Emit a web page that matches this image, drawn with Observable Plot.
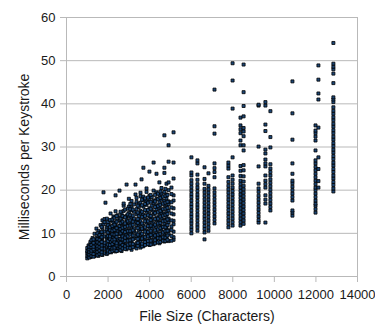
<!DOCTYPE html>
<html>
<head>
<meta charset="utf-8">
<script src="https://cdn.jsdelivr.net/npm/d3@7"></script>
<script src="https://cdn.jsdelivr.net/npm/@observablehq/plot@0.6"></script>
<style>
  html, body { margin: 0; padding: 0; background: #fff; }
  #chart svg { display: block; }
</style>
</head>
<body>
<div id="chart"></div>
<script>
// File size (characters) of each group of measurements
const fileSize = [1000, 1060, 1150, 1250, 1350, 1440, 1540, 1640, 1730, 1780, 1830, 1875, 1940, 2040, 2120, 2150, 2260, 2360, 2460, 2550, 2650, 2750, 2890, 3000, 3130, 3250, 3320, 3370, 3480, 3560, 3610, 3700, 3850, 3990, 4100, 4190, 4330, 4470, 4570, 4710, 4810, 4910, 5150, 6010, 6300, 6640, 6830, 7120, 7790, 7990, 8370, 8520, 9240, 9570, 9810, 10870, 11980, 12120, 12840,
  1100, 1200, 1300, 1490, 1590, 1690, 1990, 2090, 2210, 2310, 2410, 2600, 2700, 2820, 2950, 3070, 3190, 3430, 3630, 3780, 3920, 4050, 4260, 4400, 4520, 4640, 4760, 4860, 5050];

// Milliseconds per keystroke measured for each file size (same order)
const msPerKeystroke = [
  [4.2, 4.8, 5.5, 5.9, 6.6],
  [4.6, 5.2, 6.1, 7.2],
  [4.5, 5.0, 5.8, 6.4, 7.5, 8.0],
  [4.9, 5.3, 6.2, 6.5, 7.6, 8.9],
  [4.7, 5.6, 5.9, 7.1, 7.4, 8.3, 9.9],
  [5.1, 5.5, 6.6, 7.3, 8.1, 9.0, 11.1],
  [4.8, 5.9, 6.4, 7.7, 8.4, 9.4, 10.5],
  [5.3, 5.7, 6.9, 7.5, 8.8, 10.1, 11.9],
  [5.0, 6.1, 6.7, 8.2, 9.0, 9.7, 11.2, 13.0],
  [12.1, 19.5],
  [5.4, 6.4, 7.3, 7.8, 9.3, 10.4, 12.6, 13.3],
  [17.1],
  [5.2, 6.2, 7.0, 8.5, 9.2, 10.9, 11.6, 13.4],
  [5.9, 6.6, 7.8, 8.6, 9.9, 10.5, 12.0],
  [8.0, 14.6],
  [5.6, 6.3, 7.1, 8.9, 9.6, 11.2, 12.9],
  [6.1, 6.9, 7.6, 9.0, 10.3, 11.1, 12.5, 13.9],
  [5.8, 7.0, 8.3, 9.4, 10.0, 11.8, 12.3, 15.1, 18.8],
  [6.0, 6.5, 7.9, 8.8, 10.6, 11.4, 13.0, 14.2],
  [6.4, 7.4, 8.2, 9.8, 10.9, 11.7, 13.6, 19.9],
  [5.9, 7.1, 8.4, 9.1, 10.2, 12.2, 12.9, 14.5],
  [6.6, 7.6, 8.0, 9.5, 11.0, 11.6, 13.8, 15.2, 16.4, 16.9],
  [6.3, 7.2, 8.9, 9.6, 10.7, 12.6, 13.3, 14.1, 21.3],
  [6.8, 7.5, 8.5, 10.1, 10.8, 12.0, 13.9, 14.7, 16.2, 18.0],
  [6.2, 7.9, 8.7, 9.9, 11.5, 12.3, 13.6, 15.3, 16.0, 17.5],
  [6.9, 7.3, 8.8, 10.4, 11.1, 12.9, 13.4, 15.0, 16.7],
  [19.0, 21.3],
  [6.5, 7.7, 9.4, 10.0, 11.9, 12.6, 14.4, 15.6, 17.3, 18.2],
  [7.3, 8.2, 9.0, 10.8, 11.6, 13.2, 14.0, 16.1, 16.9],
  [6.7, 8.0, 9.6, 10.3, 12.1, 12.8, 14.6, 15.2, 17.1, 18.6, 19.4],
  [22.5],
  [7.0, 8.6, 9.2, 11.0, 11.8, 13.6, 14.3, 16.2, 17.7, 18.5, 25.2],
  [7.6, 8.3, 9.9, 10.6, 12.5, 13.1, 15.0, 16.6, 17.4, 19.6, 20.4],
  [7.3, 8.9, 9.5, 11.3, 12.0, 13.9, 14.5, 15.8, 17.9, 18.7, 24.3],
  [7.8, 8.5, 10.1, 11.0, 12.7, 13.5, 15.4, 16.4, 18.4],
  [7.5, 9.2, 9.8, 11.6, 12.3, 14.4, 15.0, 17.0, 17.6, 19.9, 26.4],
  [8.0, 8.7, 10.3, 11.4, 13.0, 13.7, 15.6, 16.5, 18.0, 19.5, 23.8],
  [7.7, 9.4, 10.0, 12.0, 12.6, 14.2, 15.9, 17.2, 18.9, 21.8],
  [8.4, 9.0, 10.9, 11.5, 13.5, 14.8, 15.5, 17.8, 19.2, 20.5],
  [8.1, 9.6, 10.2, 12.2, 13.1, 14.6, 16.6, 17.5, 19.6, 24.0, 25.2, 32.7],
  [8.6, 9.3, 11.2, 11.8, 13.8, 14.9, 16.2, 18.1, 19.0, 21.5],
  [8.2, 9.9, 10.7, 12.5, 13.4, 15.3, 16.8, 17.4, 20.0, 21.8, 26.6, 30.4],
  [8.5, 9.1, 10.4, 12.1, 12.9, 14.4, 15.8, 17.6, 18.8, 22.7, 26.4, 33.4],
  [10.0, 10.8, 11.5, 12.3, 13.0, 13.8, 14.5, 15.3, 16.1, 16.8, 17.6, 18.4, 19.1, 19.9, 20.7, 21.5, 22.3, 23.4, 24.1, 27.6],
  [10.6, 11.4, 12.1, 12.9, 13.7, 14.4, 15.2, 16.0, 16.7, 17.5, 18.3, 19.0, 19.8, 20.6, 21.4, 22.4, 23.6, 26.2, 26.9],
  [8.6, 10.2, 11.0, 11.7, 12.5, 13.3, 14.0, 14.8, 15.6, 16.3, 17.1, 17.9, 18.7, 19.5, 20.3, 21.5, 22.6, 25.3],
  [10.6, 11.4, 12.2, 13.0, 13.8, 14.6, 15.4, 16.2, 17.0, 17.8, 18.6, 19.4, 20.2, 21.0, 23.9],
  [12.3, 13.1, 13.9, 14.7, 15.5, 16.3, 17.1, 17.9, 18.7, 19.5, 20.4, 23.0, 24.2, 25.1, 26.2, 33.1, 34.8, 43.3],
  [11.4, 12.2, 13.0, 13.8, 14.6, 15.4, 16.2, 17.0, 17.8, 18.6, 19.4, 20.2, 21.0, 21.9, 23.0, 25.0, 25.7, 26.4],
  [11.8, 12.6, 13.4, 14.2, 15.0, 15.8, 16.6, 17.4, 18.2, 19.0, 19.8, 20.6, 21.5, 22.4, 23.4, 27.6, 38.9, 45.4, 49.4],
  [11.8, 12.6, 13.4, 14.2, 15.0, 15.8, 16.6, 17.4, 18.2, 19.0, 19.8, 20.6, 21.4, 22.2, 23.3, 24.5, 25.6, 30.4, 31.5, 33.2, 34.1, 35.0, 36.8],
  [12.2, 13.0, 13.8, 14.6, 15.4, 16.2, 17.0, 17.8, 18.6, 19.4, 20.2, 21.0, 22.0, 23.2, 24.6, 25.8, 29.2, 30.4, 32.5, 33.6, 34.4, 37.1, 39.5, 42.7, 49.1],
  [12.5, 13.1, 13.9, 14.7, 15.5, 16.3, 17.1, 17.9, 18.7, 19.6, 20.4, 21.5, 25.5, 30.1, 39.6, 39.8],
  [12.5, 16.9, 17.8, 18.8, 20.6, 21.4, 22.2, 23.4, 25.5, 26.2, 27.1, 28.5, 29.4, 33.7, 35.2, 39.6, 40.4],
  [15.3, 16.1, 16.9, 17.7, 18.5, 19.3, 20.1, 20.9, 21.7, 22.5, 23.4, 24.2, 25.0, 26.0, 29.9, 32.3, 38.3],
  [14.1, 14.8, 15.3, 17.6, 18.4, 19.2, 20.0, 20.8, 21.6, 22.2, 23.8, 26.2, 31.7, 37.8, 45.2],
  [14.8, 15.6, 16.4, 16.9, 17.6, 18.4, 19.2, 20.0, 20.6, 21.4, 22.2, 23.0, 23.8, 24.6, 25.4, 26.2, 26.9, 29.2, 31.5, 32.4, 33.2, 33.8, 35.0],
  [20.6, 22.1, 24.9, 27.6, 34.5, 41.0, 42.4, 45.6, 48.9],
  [19.7, 20.4, 21.2, 21.9, 22.7, 23.4, 24.2, 24.9, 25.7, 26.4, 27.2, 27.9, 28.7, 29.4, 30.2, 30.9, 31.7, 32.4, 33.2, 33.9, 34.7, 35.4, 36.2, 36.9, 37.7, 38.4, 39.2, 40.4, 41.0, 41.5, 44.8, 47.0, 48.0, 48.6, 49.3, 54.1],
  [4.4, 5.1, 5.7, 6.3, 6.9],
  [4.7, 5.4, 6.0, 6.8, 7.3, 8.4],
  [4.6, 5.2, 6.3, 6.9, 7.8, 8.6],
  [4.9, 5.7, 6.5, 7.0, 7.9, 8.7, 10.0],
  [5.2, 6.0, 6.8, 7.6, 8.5, 9.6],
  [5.1, 5.6, 6.5, 7.2, 8.0, 9.1, 10.3, 11.5],
  [5.5, 6.0, 7.4, 8.2, 9.4, 10.2, 11.9, 12.6],
  [5.7, 6.8, 7.3, 8.7, 9.3, 10.8, 11.4, 13.1],
  [5.9, 6.5, 7.5, 8.4, 9.8, 10.6, 11.7, 13.2],
  [6.2, 6.7, 8.0, 8.6, 9.7, 10.8, 12.0, 13.6],
  [5.9, 7.2, 7.7, 9.2, 9.9, 11.2, 12.7, 14.0],
  [6.1, 6.8, 7.8, 8.7, 10.0, 11.0, 12.4, 13.4, 15.0],
  [6.5, 7.3, 8.6, 9.3, 10.5, 11.3, 12.7, 14.0],
  [6.4, 7.0, 8.2, 9.0, 10.3, 11.5, 12.3, 13.7, 15.5],
  [6.7, 7.4, 8.3, 9.3, 10.5, 11.7, 12.8, 14.4, 15.7],
  [6.6, 7.6, 8.4, 9.7, 10.5, 11.8, 13.0, 14.2, 15.6, 16.8],
  [6.8, 7.5, 8.6, 9.5, 10.7, 12.0, 12.7, 14.1, 15.5],
  [7.1, 7.8, 8.7, 9.7, 11.2, 12.4, 13.3, 14.8, 16.4],
  [7.0, 7.6, 8.8, 9.9, 11.1, 12.3, 13.8, 15.0, 16.5, 17.8],
  [7.3, 8.0, 9.1, 10.4, 11.4, 12.8, 14.0, 15.4, 16.8, 18.1],
  [7.5, 8.2, 9.3, 10.3, 11.7, 12.8, 14.2, 15.4, 17.1, 18.3],
  [7.4, 8.3, 9.6, 10.6, 11.8, 13.1, 14.0, 15.7, 17.3, 18.9],
  [7.7, 8.4, 9.5, 10.7, 12.0, 13.3, 14.7, 16.1, 17.4, 18.9],
  [7.9, 8.9, 9.7, 10.9, 12.3, 13.4, 14.9, 16.3, 17.9, 19.2],
  [8.0, 8.8, 9.9, 11.2, 12.4, 13.9, 15.2, 16.6, 18.2, 19.7],
  [8.3, 9.1, 10.2, 11.5, 12.8, 14.1, 15.6, 16.9, 18.5],
  [8.2, 9.0, 10.5, 11.4, 12.9, 14.3, 15.7, 17.1, 18.7, 20.3],
  [8.5, 9.5, 10.6, 11.9, 13.2, 14.5, 15.9, 17.3, 18.9],
  [8.3, 9.4, 10.8, 11.6, 13.0, 14.6, 16.0, 17.2, 19.1, 20.6]
];

const xTicks = [0, 2000, 4000, 6000, 8000, 10000, 12000, 14000];
const yTicks = [0, 10, 20, 30, 40, 50, 60];

const points = fileSize.flatMap((size, i) => msPerKeystroke[i].map(ms => ({size, ms})));

const gridColor = "#b9b9b9";

const chart = Plot.plot({
  width: 375,
  height: 329,
  marginLeft: 66,
  marginRight: 18,
  marginTop: 17,
  marginBottom: 53,
  style: {fontFamily: "'Liberation Sans', Arial, sans-serif", fontSize: "13px", color: "#1a1a1a", background: "#fff", overflow: "visible"},
  x: {domain: [0, 14000]},
  y: {domain: [0, 60]},
  marks: [
    Plot.gridY(yTicks, {stroke: gridColor, strokeOpacity: 1}),
    Plot.ruleX([0, 14000], {stroke: gridColor}),
    Plot.axisX(xTicks, {tickSize: 6, tickPadding: 7, stroke: gridColor, tickFormat: d => String(d), label: null, fontSize: 13}),
    Plot.axisY(yTicks, {tickSize: 6, tickPadding: 5, stroke: gridColor, label: null, fontSize: 13}),
    Plot.dot(points, {x: "size", y: "ms", symbol: "square", r: 1.7, fill: "#1b4778", stroke: "#000", strokeWidth: 0.8}),
    Plot.text(["File Size (Characters)"], {frameAnchor: "bottom", dy: 44, dx: -5, fontSize: 14, fill: "#1a1a1a"}),
    Plot.text(["Milliseconds per Keystroke"], {frameAnchor: "left", textAnchor: "middle", dx: -42, dy: 10, rotate: -90, fontSize: 14, fill: "#1a1a1a"})
  ]
});

document.getElementById("chart").appendChild(chart);
</script>
</body>
</html>
